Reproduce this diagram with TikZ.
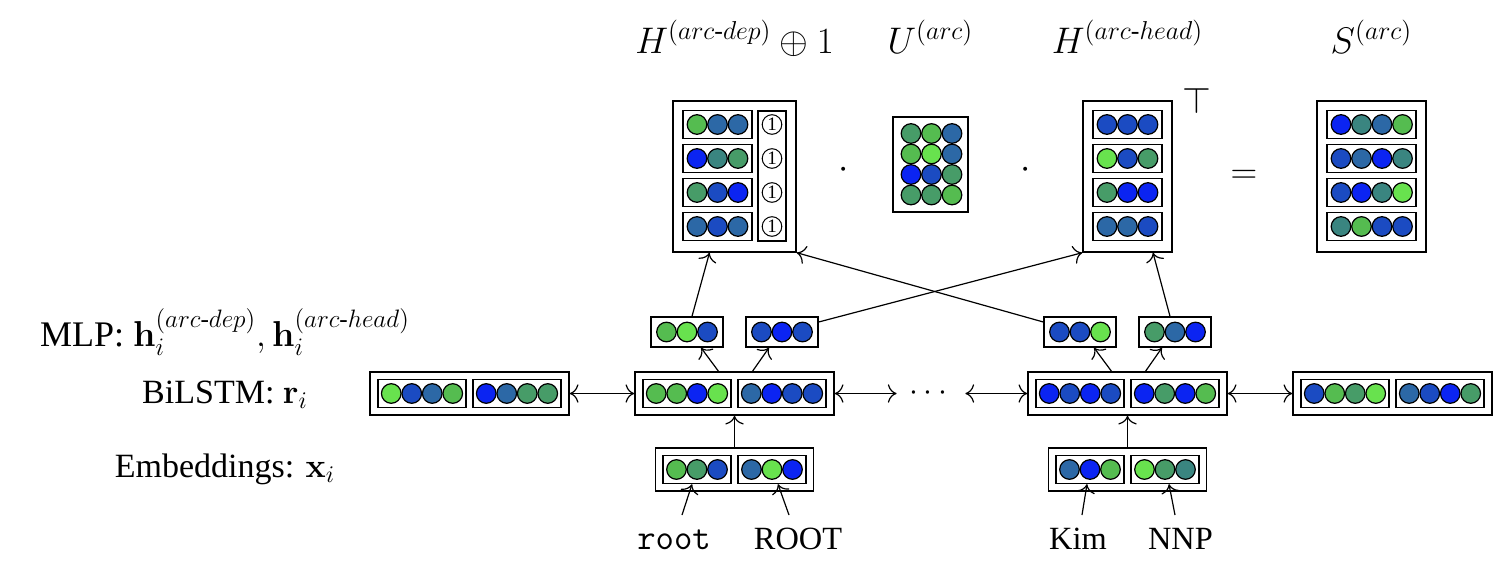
\RequirePackage{fix-cm}
\documentclass[tikz,border=0pt]{standalone}
\usepackage{amsmath}
\usepackage[no-math]{fontspec}
\setmainfont{Liberation Serif}
\usepackage{xcolor}
\usepackage{tikz}
\usetikzlibrary{arrows.meta}

\definecolor{cvivid}{HTML}{0B24F2}
\definecolor{croyal}{HTML}{1B4BC2}
\definecolor{csteel}{HTML}{2C68A6}
\definecolor{cteal}{HTML}{3A8580}
\definecolor{csea}{HTML}{479C68}
\definecolor{cgrass}{HTML}{55BC50}
\definecolor{clime}{HTML}{68E24E}

% fila de bolas: nombre, x de la primera, y, colores
\newcommand{\bolas}[4]{%
  \foreach \colr [count=\idx from 0] in {#4}
    \node[bola, fill=\colr] (#1\idx) at ({#2+20.5*\idx}, #3) {};
}

\begin{document}
\begin{tikzpicture}[x=0.5pt, y=-0.5pt, >={To[scale=1.5]},
    bola/.style={circle, draw, line width=0.6pt, minimum size=9.8pt, inner sep=0pt},
    caja/.style={draw, line width=0.7pt, inner sep=0pt},
    fila3/.style={caja, minimum width=34.5pt, minimum height=14pt},
    fila4/.style={caja, minimum width=44.5pt, minimum height=14pt},
    uno/.style={circle, draw, line width=0.5pt, minimum size=9.8pt, inner sep=0pt, font=\fontsize{9.5}{9.5}\selectfont},
    flecha/.style={->, line width=0.6pt},
    titulo/.style={anchor=base, font=\fontsize{18.5}{21}\selectfont},
    capa/.style={anchor=base, font=\fontsize{17}{20}\selectfont},
    pie/.style={anchor=base, font=\fontsize{16.2}{19}\selectfont}]
  \useasboundingbox (0,0) rectangle (1512,584);

  % Matrices de arriba
  \node[caja, minimum width=61.5pt, minimum height=75.5pt] (hdep) at (734.5,176.5) {};
  \foreach \y [count=\r] in {124.5,158.5,192.5,226.5}
    \node[fila3] (hdf\r) at (717.5,\y) {};
  \bolas{hda}{697}{124.5}{cgrass,csteel,csteel}
  \bolas{hdb}{697}{158.5}{cvivid,cteal,csea}
  \bolas{hdc}{697}{192.5}{csea,croyal,cvivid}
  \bolas{hdd}{697}{226.5}{csteel,croyal,csteel}
  \node[caja, minimum width=14pt, minimum height=65pt] (unos) at (772,176) {};
  \foreach \y [count=\r] in {124.5,158.5,192.5,226.5}
    \node[uno] (uno\r) at (772,\y) {1};

  \node[caja, minimum width=37.5pt, minimum height=47.5pt] (uarc) at (930.5,164.5) {};
  \bolas{ua}{911}{133.5}{csea,cgrass,csteel}
  \bolas{ub}{911}{154}{cgrass,clime,csteel}
  \bolas{uc}{911}{174.5}{cvivid,croyal,csea}
  \bolas{ud}{911}{195}{csea,csea,cgrass}

  \node[caja, minimum width=44.5pt, minimum height=75.5pt] (hhead) at (1127.5,176.5) {};
  \foreach \y [count=\r] in {124.5,158.5,192.5,226.5}
    \node[fila3] (hhf\r) at (1127.5,\y) {};
  \bolas{hha}{1107}{124.5}{croyal,croyal,croyal}
  \bolas{hhb}{1107}{158.5}{clime,croyal,csea}
  \bolas{hhc}{1107}{192.5}{csea,cvivid,cvivid}
  \bolas{hhd}{1107}{226.5}{csteel,csteel,croyal}

  \node[caja, minimum width=54.5pt, minimum height=75.5pt] (sarc) at (1371.5,176.5) {};
  \foreach \y [count=\r] in {124.5,158.5,192.5,226.5}
    \node[fila4] (sf\r) at (1371.5,\y) {};
  \bolas{sa}{1341}{124.5}{cvivid,cteal,csteel,cgrass}
  \bolas{sb}{1341}{158.5}{croyal,csteel,cvivid,cteal}
  \bolas{sc}{1341}{192.5}{croyal,cvivid,cteal,clime}
  \bolas{sd}{1341}{226.5}{cteal,cgrass,croyal,croyal}

  % Titulos y operadores
  \node[titulo] (thdep) at (734.5,53) {$H^{(arc\text{-}dep)}\oplus 1$};
  \node[titulo] (tuarc) at (930.5,53) {$U^{(arc)}$};
  \node[titulo] (thhead) at (1127.5,53) {$H^{(arc\text{-}head)}$};
  \node[titulo] (tsarc) at (1371.5,53) {$S^{(arc)}$};
  \node[titulo] (punto1) at (844,178) {$\cdot$};
  \node[titulo] (punto2) at (1026,178) {$\cdot$};
  \node[titulo] (traspuesta) at (1197,113) {$\top$};
  \node[titulo] (igual) at (1244,183) {$=$};

  % Capa MLP
  \node[fila3, minimum width=36pt, minimum height=15pt] (mlp1) at (687,332) {};
  \node[fila3, minimum width=36pt, minimum height=15pt] (mlp2) at (782,332) {};
  \node[fila3, minimum width=36pt, minimum height=15pt] (mlp3) at (1080,332) {};
  \node[fila3, minimum width=36pt, minimum height=15pt] (mlp4) at (1175,332) {};
  \bolas{ma}{666.5}{332}{cgrass,clime,croyal}
  \bolas{mb}{761.5}{332}{croyal,cvivid,croyal}
  \bolas{mc}{1059.5}{332}{croyal,croyal,clime}
  \bolas{md}{1154.5}{332}{csea,csteel,cvivid}

  % Capa BiLSTM
  \foreach \x [count=\r from 0] in {469.5,734.5,1127.5,1392.5} {
    \node[caja, minimum width=99.5pt, minimum height=21.5pt] (b\r) at (\x,393.5) {};
    \node[fila4, minimum width=44pt] (b\r a) at (\x-47.5,393.5) {};
    \node[fila4, minimum width=44pt] (b\r b) at (\x+47.5,393.5) {};
  }
  \bolas{bza}{391.25}{393.5}{clime,croyal,csteel,cgrass}
  \bolas{bzb}{486.25}{393.5}{cvivid,csteel,csea,csea}
  \bolas{bua}{656.25}{393.5}{cgrass,cgrass,cvivid,clime}
  \bolas{bub}{751.25}{393.5}{csteel,cvivid,croyal,croyal}
  \bolas{bda}{1049.25}{393.5}{cvivid,croyal,cvivid,croyal}
  \bolas{bdb}{1144.25}{393.5}{cvivid,csea,cvivid,cgrass}
  \bolas{bta}{1314.25}{393.5}{croyal,cgrass,csea,clime}
  \bolas{btb}{1409.25}{393.5}{csteel,croyal,cvivid,csea}
  \node[minimum width=34pt, inner sep=0pt, font=\fontsize{16}{16}\selectfont] (puntos) at (931,393.5) {$\cdots$};

  % Embeddings
  \node[caja, minimum width=79pt, minimum height=21.5pt] (e1) at (734.5,469.5) {};
  \node[fila3, minimum width=34pt] (e1a) at (697,469.5) {};
  \node[fila3, minimum width=34pt] (e1b) at (772,469.5) {};
  \node[caja, minimum width=79pt, minimum height=21.5pt] (e2) at (1127.5,469.5) {};
  \node[fila3, minimum width=34pt] (e2a) at (1090,469.5) {};
  \node[fila3, minimum width=34pt] (e2b) at (1165,469.5) {};
  \bolas{ea}{676.5}{469.5}{cgrass,csea,croyal}
  \bolas{eb}{751.5}{469.5}{csteel,clime,cvivid}
  \bolas{ec}{1069.5}{469.5}{csteel,cvivid,cgrass}
  \bolas{ed}{1144.5}{469.5}{clime,csea,cteal}

  % Etiquetas
  \node[capa, font=\fontsize{18}{21}\selectfont] (lmlp) at (225,346) {MLP: $\mathbf{h}_i^{(arc\text{-}dep)}, \mathbf{h}_i^{(arc\text{-}head)}$};
  \node[capa] (lbilstm) at (225,403) {BiLSTM: $\mathbf{r}_i$};
  \node[capa] (lemb) at (225,477) {Embeddings: $\mathbf{x}_i$};
  \node[pie, font=\fontsize{17.8}{19}\selectfont] (tok1) at (674,549) {\texttt{root}};
  \node[pie] (tag1) at (798,549) {ROOT};
  \node[pie] (tok2) at (1078,549) {Kim};
  \node[pie] (tag2) at (1180.5,549) {NNP};

  % Flechas
  \draw[flecha, <->] (b0) -- (b1);
  \draw[flecha, <->] (b1) -- (puntos);
  \draw[flecha, <->] (puntos) -- (b2);
  \draw[flecha, <->] (b2) -- (b3);
  \draw[flecha] (e1) -- (b1);
  \draw[flecha] (e2) -- (b2);
  \draw[flecha] ([xshift=-8pt]b1.north) -- ([xshift=7pt]mlp1.south);
  \draw[flecha] ([xshift=9pt]b1.north) -- ([xshift=-6.5pt]mlp2.south);
  \draw[flecha] ([xshift=-8pt]b2.north) -- ([xshift=7pt]mlp3.south);
  \draw[flecha] ([xshift=9pt]b2.north) -- ([xshift=-6.5pt]mlp4.south);
  \draw[flecha] ([xshift=2.5pt]mlp1.north) -- ([xshift=-12.5pt]hdep.south);
  \draw[flecha] ([xshift=-2.5pt]mlp4.north) -- ([xshift=12.75pt]hhead.south);
  \draw[flecha] ([yshift=5pt]mlp2.east) -- (hhead.south west);
  \draw[flecha] ([yshift=5pt]mlp3.west) -- (hdep.south east);
  \draw[flecha] ([xshift=4pt, yshift=17pt]tok1.base) -- ([xshift=-2.5pt]e1a.south);
  \draw[flecha] ([xshift=-4.5pt, yshift=17pt]tag1.base) -- ([xshift=3pt]e1b.south);
  \draw[flecha] ([xshift=2pt, yshift=17pt]tok2.base) -- ([xshift=-1.5pt]e2a.south);
  \draw[flecha] ([xshift=-2.75pt, yshift=17pt]tag2.base) -- ([xshift=2pt]e2b.south);
\end{tikzpicture}
\end{document}
